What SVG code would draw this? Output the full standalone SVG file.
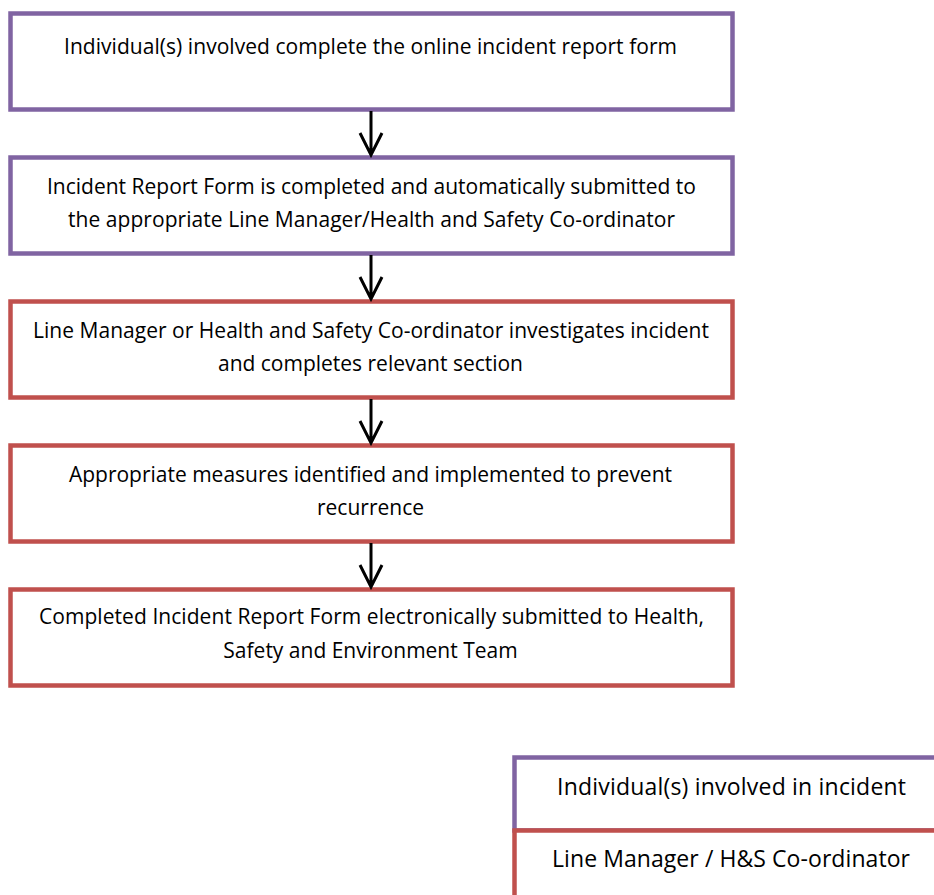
<svg xmlns="http://www.w3.org/2000/svg" width="934" height="895" viewBox="0 0 934 895">
<style>
.box{fill:#fff;stroke-width:4.5}
.p{stroke:#8064A2}
.r{stroke:#C0504D}
text{font-family:"Open Sans","Liberation Sans",sans-serif;font-size:21px;fill:#000;text-anchor:middle}
.lg{font-size:23px}
.arr{fill:none;stroke:#000;stroke-width:3}
</style>
<rect width="934" height="895" fill="#fff"/>
<g id="n1"><rect class="box p" x="10.5" y="13.5" width="722" height="96"/>
<text x="370.5" y="54" textLength="613">Individual(s) involved complete the online incident report form</text></g>
<g id="n2"><rect class="box p" x="10.5" y="157.5" width="722" height="96"/>
<text x="371.5" y="194" textLength="649">Incident Report Form is completed and automatically submitted to</text>
<text x="371.5" y="227" textLength="607">the appropriate Line Manager/Health and Safety Co-ordinator</text></g>
<g id="n3"><rect class="box r" x="10.5" y="301.5" width="722" height="96"/>
<text x="371" y="338" textLength="676">Line Manager or Health and Safety Co-ordinator investigates incident</text>
<text x="370.5" y="371" textLength="305">and completes relevant section</text></g>
<g id="n4"><rect class="box r" x="10.5" y="445.5" width="722" height="96"/>
<text x="370.5" y="482" textLength="603">Appropriate measures identified and implemented to prevent</text>
<text x="370.5" y="515">recurrence</text></g>
<g id="n5"><rect class="box r" x="10.5" y="589.5" width="722" height="96"/>
<text x="371.5" y="624" textLength="665">Completed Incident Report Form electronically submitted to Health,</text>
<text x="370.5" y="658">Safety and Environment Team</text></g>
<g id="connectors">
<path class="arr" d="M371,111 V155 M360,133 L371,155 L382,133"/>
<path class="arr" d="M371,255 V299 M360,277 L371,299 L382,277"/>
<path class="arr" d="M371,399 V443 M360,421 L371,443 L382,421"/>
<path class="arr" d="M371,543 V587 M360,565 L371,587 L382,565"/>
</g>
<g id="legend1"><rect class="box p" x="514.5" y="757.5" width="440" height="73"/>
<text class="lg" x="731.5" y="795" textLength="349">Individual(s) involved in incident</text></g>
<g id="legend2"><rect class="box r" x="514.5" y="830.5" width="440" height="90"/>
<text class="lg" x="731" y="867" textLength="358">Line Manager / H&amp;S Co-ordinator</text></g>
</svg>
